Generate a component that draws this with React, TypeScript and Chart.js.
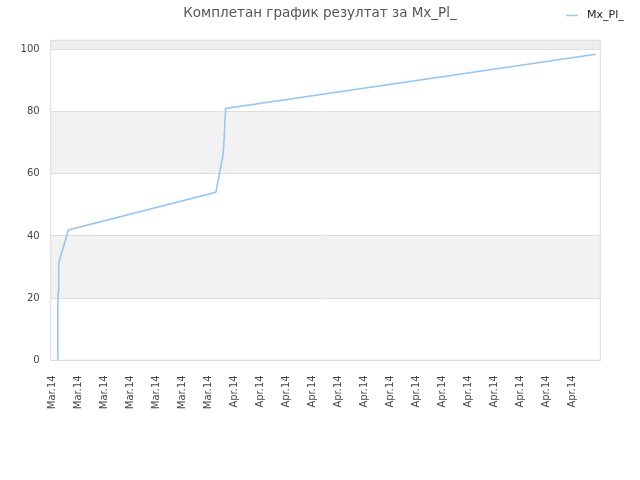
import React, { useEffect, useRef } from 'react';
import { Chart, registerables } from 'chart.js';

Chart.register(...registerables);

// ---- data ----
const titleText = 'Комплетан график резултат за Mx_Pl_';
const seriesName = 'Mx_Pl_';
const xTickLabels = [
  'Mar.14', 'Mar.14', 'Mar.14', 'Mar.14', 'Mar.14', 'Mar.14', 'Mar.14',
  'Apr.14', 'Apr.14', 'Apr.14', 'Apr.14', 'Apr.14', 'Apr.14', 'Apr.14',
  'Apr.14', 'Apr.14', 'Apr.14', 'Apr.14', 'Apr.14', 'Apr.14', 'Apr.14',
];
// x positions in tick units (0 = first label), y = result values
const xValues = [0.22, 0.22, 0.23, 0.24, 0.26, 0.31, 0.63, 6.3, 6.44, 6.59, 6.68, 20.92];
const yValues = [0, 10, 20, 22, 31.2, 32.8, 41.9, 54.0, 60, 66.6, 81.0, 98.4];
const yTicks = [0, 20, 40, 60, 80, 100];
const yMax = 102.9;
const xMin = -0.05;
const xMax = 21.09;

const lineColor = '#95c6f5';

const bandsPlugin = {
  id: 'bands',
  beforeDraw(chart: any) {
    const { ctx, chartArea: a, scales } = chart;
    const y = scales.y;
    const vals = y.ticks.map((t: any) => t.value);
    ctx.save();
    for (let i = 1; i < vals.length; i += 2) {
      const from = vals[i];
      const to = i + 1 < vals.length ? vals[i + 1] : y.max;
      const top = y.getPixelForValue(to);
      const bottom = y.getPixelForValue(from);
      ctx.fillStyle = i + 1 < vals.length ? '#f2f2f2' : '#eeeeee';
      ctx.fillRect(a.left, top, a.right - a.left, bottom - top);
    }
    ctx.restore();
  },
  beforeDatasetsDraw(chart: any) {
    const { ctx, chartArea: a } = chart;
    ctx.save();
    ctx.strokeStyle = '#dcdcdc';
    ctx.lineWidth = 1;
    ctx.strokeRect(a.left, a.top, a.right - a.left, a.bottom - a.top);
    ctx.restore();
  },
  afterDraw(chart: any) {
    const { ctx } = chart;
    const ds = chart.data.datasets[0];
    ctx.save();
    ctx.strokeStyle = ds.borderColor;
    ctx.lineWidth = 1.5;
    ctx.beginPath();
    ctx.moveTo(566, 15.5);
    ctx.lineTo(578, 15.5);
    ctx.stroke();
    ctx.fillStyle = '#222';
    ctx.font = '11px "DejaVu Sans"';
    ctx.textBaseline = 'middle';
    ctx.textAlign = 'left';
    ctx.fillText(ds.label, 587, 15.5);
    ctx.restore();
  },
};

export default function App() {
  const ref = useRef<HTMLCanvasElement | null>(null);
  useEffect(() => {
    if (!ref.current) return;
    Chart.defaults.font.family = '"DejaVu Sans"';
    const chart = new Chart(ref.current, {
      type: 'line',
      data: {
        datasets: [
          {
            label: seriesName,
            data: xValues.map((x, i) => ({ x, y: yValues[i] })),
            borderColor: lineColor,
            backgroundColor: lineColor,
            borderWidth: 1.6,
            pointRadius: 0,
            tension: 0,
            fill: false,
          },
        ],
      },
      options: {
        animation: false,
        responsive: true,
        maintainAspectRatio: false,
        layout: { padding: 0 },
        plugins: {
          legend: { display: false },
          tooltip: { enabled: false },
          title: {
            display: true,
            text: titleText,
            color: '#555',
            font: { family: '"DejaVu Sans"', size: 13.5, weight: 'normal' },
            padding: { top: 5, bottom: 19.1 },
          },
        },
        scales: {
          x: {
            type: 'linear',
            min: xMin,
            max: xMax,
            afterBuildTicks: (axis: any) => {
              axis.ticks = xTickLabels.map((_, i) => ({ value: i }));
            },
            afterFit: (s: any) => {
              s.height = 119.7;
            },
            grid: { display: false },
            border: { display: false },
            ticks: {
              autoSkip: false,
              minRotation: 90,
              maxRotation: 90,
              padding: 7,
              color: '#444',
              font: { size: 10 },
              callback: (v: any) => xTickLabels[Math.round(Number(v))] ?? '',
            },
          },
          y: {
            type: 'linear',
            min: 0,
            max: yMax,
            afterBuildTicks: (axis: any) => {
              axis.ticks = yTicks.map((v) => ({ value: v }));
            },
            afterFit: (s: any) => {
              s.width = 50.7;
            },
            grid: { color: '#dedede', drawTicks: false, lineWidth: 1 },
            border: { display: false },
            ticks: {
              padding: 11,
              color: '#444',
              font: { size: 10 },
            },
          },
          yRight: {
            type: 'linear',
            position: 'right',
            display: true,
            afterFit: (s: any) => {
              s.width = 39.7;
            },
            grid: { display: false },
            border: { display: false },
            ticks: { display: false },
          },
        },
      },
      plugins: [bandsPlugin],
    });
    return () => chart.destroy();
  }, []);
  return (
    <div style={{ position: 'absolute', left: 0, top: 0, width: 640, height: 480 }}>
      <canvas ref={ref} />
    </div>
  );
}
